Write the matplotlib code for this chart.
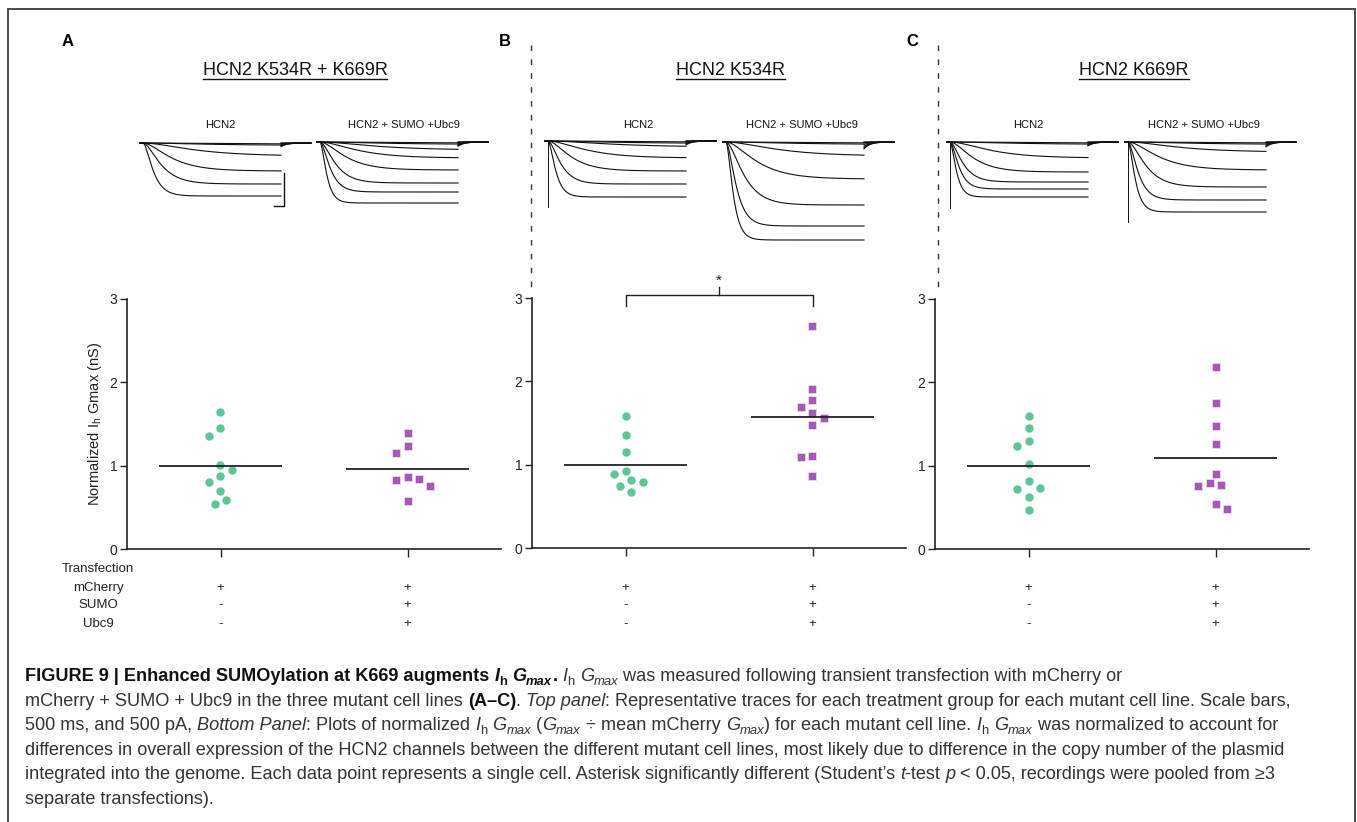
import numpy as np
import matplotlib
matplotlib.use('Agg')
import matplotlib.pyplot as plt
from matplotlib.lines import Line2D
from matplotlib.transforms import blended_transform_factory

plt.rcParams['font.family'] = ['Liberation Sans', 'DejaVu Sans']
plt.rcParams['mathtext.fontset'] = 'custom'
plt.rcParams['mathtext.rm'] = 'Liberation Sans'
plt.rcParams['mathtext.it'] = 'Liberation Sans:italic'

W, H = 1357, 822

# ---- data ----
panel_letters = ['A', 'B', 'C']
titles = ['HCN2 K534R + K669R', 'HCN2 K534R', 'HCN2 K669R']
groups = ['HCN2', 'HCN2 + SUMO +Ubc9']

# normalized Ih Gmax (nS), one value per cell
a_hcn2 = [1.64, 1.45, 1.36, 1.01, 0.95, 0.88, 0.81, 0.70, 0.59, 0.54]
a_sumo = [1.39, 1.23, 1.15, 0.87, 0.83, 0.84, 0.76, 0.58]
b_hcn2 = [1.58, 1.36, 1.15, 0.89, 0.93, 0.79, 0.82, 0.75, 0.67]
b_sumo = [2.66, 1.91, 1.78, 1.69, 1.62, 1.56, 1.48, 1.11, 1.09, 0.86]
c_hcn2 = [1.59, 1.45, 1.29, 1.23, 1.02, 0.82, 0.72, 0.73, 0.62, 0.47]
c_sumo = [2.18, 1.75, 1.48, 1.26, 0.90, 0.77, 0.76, 0.79, 0.54, 0.48]

row_names = ['mCherry', 'SUMO', 'Ubc9']
signs_hcn2 = ['+', '-', '-']
signs_sumo = ['+', '+', '+']

# representative traces: steady-state current (pA) and activation tau (ms)
lev_a_hcn2 = [-15, -35, -195, -420, -615, -795]
tau_a_hcn2 = [3000, 2500, 2000, 1100, 700, 400]
lev_a_sumo = [-15, -35, -120, -240, -420, -615, -750, -915]
tau_a_sumo = [3000, 2500, 2200, 1500, 1000, 600, 400, 260]
lev_b_hcn2 = [-15, -35, -90, -255, -450, -645, -840]
tau_b_hcn2 = [3000, 2500, 2500, 1500, 900, 500, 300]
lev_b_sumo = [-15, -35, -210, -555, -945, -1260, -1470]
tau_b_sumo = [3000, 2500, 2000, 1200, 700, 400, 280]
lev_c_hcn2 = [-15, -35, -240, -450, -600, -705, -825]
tau_c_hcn2 = [3000, 2500, 1600, 900, 500, 350, 250]
lev_c_sumo = [-15, -35, -150, -420, -675, -870, -1050]
tau_c_sumo = [3000, 2500, 2000, 1200, 700, 400, 280]
spike_b_hcn2 = -990
spike_c_hcn2 = -990
spike_c_sumo = -1200
step_ms = 6900
tail_ms = 1500

green = '#5fc596'
purple = '#a45ab4'

fig = plt.figure(figsize=(W / 100, H / 100), dpi=100)


def px_axes(left, top, right, bottom):
    return fig.add_axes([left / W, 1 - bottom / H, (right - left) / W, (bottom - top) / H])


# ---- border ----
for xs, ys in [([8, 1355], [9, 9]), ([8, 8], [9, 822]), ([1355, 1355], [9, 822])]:
    fig.add_artist(Line2D([x / W for x in xs], [1 - y / H for y in ys],
                          transform=fig.transFigure, color='#4a4a4a', lw=1.4))

# dashed separators
for xp in [531, 938]:
    fig.add_artist(Line2D([xp / W] * 2, [1 - 45 / H, 1 - 290 / H], transform=fig.transFigure,
                          color='#333333', lw=1, ls=(0, (4, 6))))

# ---- scatter panels ----
ax_specs = [(127, 549), (532, 548), (935, 549)]
datasets = [(a_hcn2, a_sumo), (b_hcn2, b_sumo), (c_hcn2, c_sumo)]


def swarm(ax, xc, vals, step_px=5.7, diam_px=10.5):
    vals = np.asarray(vals, float)
    pts = ax.transData.transform(np.column_stack([np.full(len(vals), xc), vals]))
    offs = np.zeros(len(vals))
    placed = []
    left = right = 0
    for i in np.argsort(-vals):
        y = pts[i, 1]
        chosen = None
        for k in range(30):
            cands = [0] if k == 0 else ([-k, k] if left <= right else [k, -k])
            for c in cands:
                dx = c * step_px
                if all((dx - px) ** 2 + (y - py) ** 2 >= diam_px ** 2 for px, py in placed):
                    chosen = dx
                    break
            if chosen is not None:
                break
        placed.append((chosen, y))
        if chosen < 0:
            left += 1
        elif chosen > 0:
            right += 1
        offs[i] = chosen
    back = ax.transData.inverted().transform(np.column_stack([pts[:, 0] + offs, pts[:, 1]]))
    return back[:, 0]


axes = []
for (lx, by), (g1, g2) in zip(ax_specs, datasets):
    ax = px_axes(lx, by - 250, lx + 374, by)
    ax.set_xlim(-0.5, 1.5)
    ax.set_ylim(0, 3)
    ax.set_yticks([0, 1, 2, 3])
    ax.set_xticks([0, 1])
    ax.set_xticklabels([])
    for s in ['top', 'right']:
        ax.spines[s].set_visible(False)
    for s in ['left', 'bottom']:
        ax.spines[s].set_linewidth(1.2)
        ax.spines[s].set_color('#222222')
    ax.tick_params(axis='y', length=5, width=1, labelsize=10, pad=2, colors='#222222')
    ax.tick_params(axis='x', length=6, width=1, colors='#222222')
    ax.patch.set_alpha(0)

    x1 = swarm(ax, 0, g1)
    ax.scatter(x1, g1, s=42, marker='o', color=green, edgecolor='white', linewidth=0.4, zorder=3)
    x2 = swarm(ax, 1, g2)
    ax.scatter(x2, g2, s=38, marker='s', color=purple, edgecolor='#f0e0f0', linewidth=0.5, zorder=3)
    ax.hlines(np.mean(g1), -0.33, 0.33, color='#222222', lw=1.3, zorder=4)
    ax.hlines(np.mean(g2), 1 - 0.33, 1 + 0.33, color='#222222', lw=1.3, zorder=4)

    tr = blended_transform_factory(ax.transData, fig.transFigure)
    for row_y, sh, ss in zip([588, 605, 624], signs_hcn2, signs_sumo):
        ax.text(0, 1 - row_y / H, sh, transform=tr, ha='center', va='center', fontsize=9.5, color='#222222')
        ax.text(1, 1 - row_y / H, ss, transform=tr, ha='center', va='center', fontsize=9.5, color='#222222')
    axes.append(ax)

axes[0].set_ylabel(r'Normalized I$_\mathregular{h}$ Gmax (nS)', fontsize=10.5, color='#222222')
axes[0].yaxis.set_label_coords((104 - 127) / 374, 0.5)

# significance bracket in B
axb = axes[1]
axb.plot([0, 0, 1, 1], [2.9, 3.035, 3.035, 2.9], color='#222222', lw=1, clip_on=False)
axb.plot([0.5, 0.5], [3.035, 3.13], color='#222222', lw=1, clip_on=False)
axb.text(0.5, 3.16, '*', ha='center', va='baseline', fontsize=11, color='#222222')

# transfection row labels
for txt, yp in zip(['Transfection'] + row_names, [569, 588, 605, 624]):
    fig.text(98 / W, 1 - yp / H, txt, ha='center', va='center', fontsize=9.5, color='#222222')

# ---- traces ----
MS_PX, PA_PX = 50, 15


def trace_axes(x0, base):
    ax = px_axes(x0 - 10, base - 10, x0 + 190, base + 110)
    ax.set_xlim(-10 * MS_PX, 190 * MS_PX)
    ax.set_ylim(-110 * PA_PX, 10 * PA_PX)
    ax.axis('off')
    return ax


def draw_traces(ax, levels, taus, spike=None):
    t_pre = np.linspace(-150, 0, 4)
    t_on = np.linspace(0, step_ms, 300)
    t_off = np.linspace(step_ms, step_ms + tail_ms, 80)
    for L, tau in zip(levels, taus):
        i_on = L * (1 - np.exp(-t_on / tau)) ** 2
        ax.plot(np.r_[t_pre, t_on], np.r_[np.zeros(4), i_on], color='#111111', lw=0.8)
        i_off = 0.07 * L * np.exp(-(t_off - step_ms) / 300)
        ax.plot(t_off, i_off, color='#111111', lw=0.8)
    if spike is not None:
        ax.plot([0, 0], [0, spike], color='#111111', lw=0.7)


trace_sets = [
    (143, 143, lev_a_hcn2, tau_a_hcn2, None),
    (320, 142, lev_a_sumo, tau_a_sumo, None),
    (548, 141, lev_b_hcn2, tau_b_hcn2, spike_b_hcn2),
    (726, 142, lev_b_sumo, tau_b_sumo, None),
    (950, 142, lev_c_hcn2, tau_c_hcn2, spike_c_hcn2),
    (1128, 142, lev_c_sumo, tau_c_sumo, spike_c_sumo),
]
tax = []
for x0, base, lev, tau, spk in trace_sets:
    a = trace_axes(x0, base)
    draw_traces(a, lev, tau, spk)
    tax.append(a)

# scale bar: 500 ms, 500 pA
tax[0].plot([step_ms + 150 - 500, step_ms + 150, step_ms + 150], [-950, -950, -450],
            color='#111111', lw=1)

# trace labels
for xc, txt in zip([220, 404, 638, 802, 1028, 1204], groups * 3):
    fig.text(xc / W, 1 - 125 / H, txt, ha='center', va='center', fontsize=8, color='#111111')

# panel letters and titles
for xl, letter in zip([68, 505, 912], panel_letters):
    fig.text(xl / W, 1 - 42 / H, letter, ha='center', va='center', fontsize=12, fontweight='bold')

fig.canvas.draw()
renderer = fig.canvas.get_renderer()
for xc, ttl in zip([295, 730, 1134], titles):
    t = fig.text(xc / W, 1 - 75 / H, ttl, ha='center', va='baseline', fontsize=13, color='#111111')
    bb = t.get_window_extent(renderer)
    fig.add_artist(Line2D([bb.x0 / W, bb.x1 / W], [1 - 79 / H] * 2, transform=fig.transFigure,
                          color='#111111', lw=1))

# ---- caption ----
def measure(txt, fs, weight='normal', style='normal'):
    p = fig.text(0, 0, txt + '|', fontsize=fs, fontweight=weight, fontstyle=style)
    q = fig.text(0, 0, '|', fontsize=fs, fontweight=weight, fontstyle=style)
    w = p.get_window_extent(renderer).width - q.get_window_extent(renderer).width
    p.remove()
    q.remove()
    return w


def write_runs(x_px, base_px, runs, size):
    x = x_px
    for txt, st in runs:
        sub = 's' in st
        fs = size * 0.72 if sub else size
        weight = 'bold' if 'b' in st else 'normal'
        style = 'italic' if 'i' in st else 'normal'
        y = base_px + (0.2 * size * 100 / 72 if sub else 0)
        col = '#111111' if 'b' in st else '#333333'
        fig.text(x / W, 1 - y / H, txt, fontsize=fs, fontweight=weight, fontstyle=style,
                 ha='left', va='baseline', color=col)
        x += measure(txt, fs, weight, style)


line4 = ('differences in overall expression of the HCN2 channels between the different mutant '
         'cell lines, most likely due to difference in the copy number of the plasmid')
cap_size = 10 * 1265 / measure(line4, 10)

caption = [
    [('FIGURE 9 | Enhanced SUMOylation at K669 augments ', 'b'), ('I', 'bi'), ('h', 'bs'), (' ', 'b'),
     ('G', 'bi'), ('max', 'bis'), ('.', 'b'), (' ', 'n'), ('I', 'i'), ('h', 's'), (' ', 'n'),
     ('G', 'i'), ('max', 'is'), (' was measured following transient transfection with mCherry or', 'n')],
    [('mCherry + SUMO + Ubc9 in the three mutant cell lines ', 'n'), ('(A–C)', 'b'), ('. ', 'n'),
     ('Top panel', 'i'), (': Representative traces for each treatment group for each mutant cell line. Scale bars,', 'n')],
    [('500 ms, and 500 pA, ', 'n'), ('Bottom Panel', 'i'), (': Plots of normalized ', 'n'), ('I', 'i'), ('h', 's'),
     (' ', 'n'), ('G', 'i'), ('max', 'is'), (' (', 'n'), ('G', 'i'), ('max', 'is'), (' ÷ mean mCherry ', 'n'),
     ('G', 'i'), ('max', 'is'), (') for each mutant cell line. ', 'n'), ('I', 'i'), ('h', 's'), (' ', 'n'),
     ('G', 'i'), ('max', 'is'), (' was normalized to account for', 'n')],
    [(line4, 'n')],
    [('integrated into the genome. Each data point represents a single cell. Asterisk significantly different (Student’s ', 'n'),
     ('t', 'i'), ('-test ', 'n'), ('p', 'i'), (' < 0.05, recordings were pooled from ≥3', 'n')],
    [('separate transfections).', 'n')],
]
for k, runs in enumerate(caption):
    write_runs(25, 681 + 24.5 * k, runs, cap_size)

fig.savefig('out.png', dpi=100)
